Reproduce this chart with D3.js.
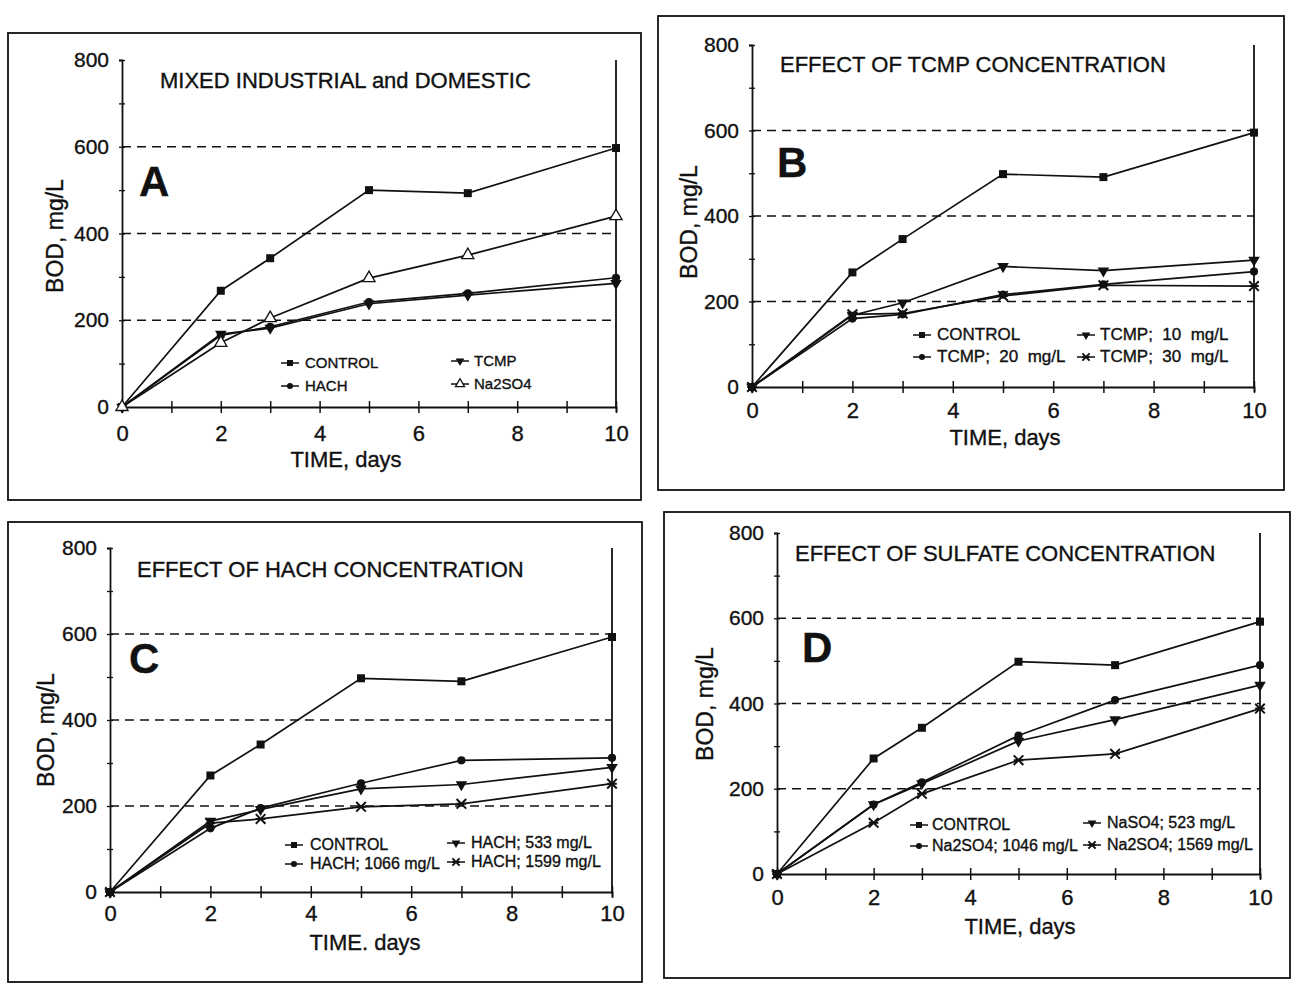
<!DOCTYPE html>
<html><head><meta charset="utf-8">
<script src="https://cdn.jsdelivr.net/npm/d3@7"></script>
<style>
body{margin:0;background:#fff}
text{font-family:"Liberation Sans",Arial,sans-serif;fill:#111;stroke:#111;stroke-width:0.35px}
</style>
</head><body>
<svg id="c" width="1293" height="987"></svg>
<script>
// ---------- data ----------
const days = [0, 2, 3, 5, 7, 10];
const xTickValues = [0,1,2,3,4,5,6,7,8,9,10];
const yTickValues = [0,100,200,300,400,500,600,700,800];
const gridValues = [200, 400, 600];

// Panel A: mixed industrial and domestic
const aControl = [0, 268, 343, 500, 493, 597];
const aHach    = [0, 165, 185, 242, 262, 298];
const aTcmp    = [0, 168, 182, 238, 258, 285];
const aNa2so4  = [0, 148, 205, 297, 350, 440];
// Panel B: TCMP concentration
const bControl = [0, 268, 346, 498, 491, 595];
const bTcmp10  = [0, 168, 197, 282, 272, 297];
const bTcmp20  = [0, 160, 170, 216, 240, 270];
const bTcmp30  = [0, 170, 172, 213, 238, 236];
// Panel C: HACH concentration
const cControl  = [0, 271, 343, 497, 490, 593];
const cHach533  = [0, 165, 192, 240, 250, 290];
const cHach1066 = [0, 148, 195, 253, 306, 312];
const cHach1599 = [0, 160, 170, 198, 205, 252];
// Panel D: sulfate concentration
const dControl     = [0, 271, 343, 498, 490, 592];
const dNaso4_523   = [0, 163, 212, 312, 362, 443];
const dNa2so4_1046 = [0, 163, 215, 325, 408, 490];
const dNa2so4_1569 = [0, 120, 188, 267, 282, 388];

const titles = ["MIXED INDUSTRIAL and DOMESTIC", "EFFECT OF TCMP CONCENTRATION",
                "EFFECT OF HACH CONCENTRATION", "EFFECT OF SULFATE CONCENTRATION"];
const letters = ["A", "B", "C", "D"];
const xLabels = ["TIME, days", "TIME, days", "TIME. days", "TIME, days"];
const yLabel = "BOD, mg/L";
const legendA = ["CONTROL", "HACH", "TCMP", "Na2SO4"];
const legendB = ["CONTROL", "TCMP;  20  mg/L", "TCMP;  10  mg/L", "TCMP;  30  mg/L"];
const legendC = ["CONTROL", "HACH; 1066 mg/L", "HACH; 533 mg/L", "HACH; 1599 mg/L"];
const legendD = ["CONTROL", "Na2SO4; 1046 mg/L", "NaSO4; 523 mg/L", "Na2SO4; 1569 mg/L"];

// ---------- layout ----------
const panels = [
  {box:[8,33,641,500], x0:122, x10:616, y0:407, y800:60, title:[160,88], letter:[139,196], ylab:[63,236], xlab:[346,467], xtdy:31, legFs:15,
   series:[[aControl,"square"],[aHach,"circle"],[aTcmp,"tridown"],[aNa2so4,"triopen"]], leg:legendA,
   legPos:[[290,363,305],[290,386,305],[460,361,474],[460,384,474]]},
  {box:[658,16,1284,490], x0:752, x10:1254, y0:387, y800:45, title:[780,72], letter:[777,177], ylab:[697,222], xlab:[1005,445], xtdy:28, legFs:17,
   series:[[bControl,"square"],[bTcmp20,"circle"],[bTcmp10,"tridown"],[bTcmp30,"star"]], leg:legendB,
   legPos:[[922,335,937],[922,357,937],[1086,335,1100],[1086,357,1100]]},
  {box:[8,522,642,982], x0:110, x10:612, y0:892, y800:548, title:[137,577], letter:[129,673], ylab:[54,730], xlab:[365,950], xtdy:26, legFs:16,
   series:[[cControl,"square"],[cHach1066,"circle"],[cHach533,"tridown"],[cHach1599,"star"]], leg:legendC,
   legPos:[[294,845,310],[294,864,310],[456,843,471],[456,862,471]]},
  {box:[664,512,1290,978], x0:777, x10:1260, y0:874, y800:533, title:[795,561], letter:[802,662], ylab:[713,704], xlab:[1020,934], xtdy:28, legFs:16,
   series:[[dControl,"square"],[dNa2so4_1046,"circle"],[dNaso4_523,"tridown"],[dNa2so4_1569,"star"]], leg:legendD,
   legPos:[[919,825,932],[919,846,932],[1092,823,1107],[1092,845,1107]]}
];

const svg = d3.select("#c");
const ink = "#111";

function marker(g, type, cx, cy, s) {
  s = s || 1;
  if (type === "square") {
    g.append("path").attr("d", d3.symbol(d3.symbolSquare, 64*s*s)()).attr("transform",`translate(${cx},${cy})`).attr("fill",ink);
  } else if (type === "circle") {
    g.append("path").attr("d", d3.symbol(d3.symbolCircle, 52*s*s)()).attr("transform",`translate(${cx},${cy})`).attr("fill",ink);
  } else if (type === "tridown") {
    g.append("path").attr("d", d3.symbol(d3.symbolTriangle, 58*s*s)()).attr("transform",`translate(${cx},${cy}) rotate(180)`).attr("fill",ink);
  } else if (type === "triopen") {
    g.append("path").attr("d", d3.symbol(d3.symbolTriangle, 64*s*s)()).attr("transform",`translate(${cx},${cy})`).attr("fill","#fff").attr("stroke",ink).attr("stroke-width",1.3);
  } else if (type === "star") {
    const r = 4.8*s;
    g.append("path").attr("d",`M${-r},${-r}L${r},${r}M${-r},${r}L${r},${-r}M${-r},0L${r},0`)
      .attr("transform",`translate(${cx},${cy})`).attr("stroke",ink).attr("stroke-width",2).attr("fill","none");
  }
}

panels.forEach((p, i) => {
  const g = svg.append("g");
  const x = d3.scaleLinear().domain([0,10]).range([p.x0, p.x10]);
  const y = d3.scaleLinear().domain([0,800]).range([p.y0, p.y800]);

  // outer box
  g.append("rect").attr("x",p.box[0]).attr("y",p.box[1]).attr("width",p.box[2]-p.box[0]).attr("height",p.box[3]-p.box[1])
    .attr("fill","none").attr("stroke",ink).attr("stroke-width",1.8);

  // dashed grid
  g.selectAll(".grid").data(gridValues).join("line")
    .attr("x1",x(0)).attr("x2",x(10)).attr("y1",d=>y(d)).attr("y2",d=>y(d))
    .attr("stroke",ink).attr("stroke-width",1.6).attr("stroke-dasharray","9,6");

  // right frame line
  g.append("line").attr("x1",x(10)).attr("x2",x(10)).attr("y1",y(0)).attr("y2",y(800)).attr("stroke",ink).attr("stroke-width",1.8);

  // x axis
  const xa = g.append("g").attr("transform",`translate(0,${p.y0})`)
    .call(d3.axisBottom(x).tickValues(xTickValues).tickSizeOuter(0).tickSize(5).tickPadding(p.xtdy-18)
      .tickFormat(d => d % 2 === 0 ? d : ""));
  xa.select(".domain").attr("stroke",ink).attr("stroke-width",1.8);
  xa.selectAll(".tick line").attr("y1",-6).attr("y2",6).attr("stroke",ink).attr("stroke-width",1.5);
  xa.selectAll(".tick text").attr("font-size",22).attr("font-family","Liberation Sans, Arial, sans-serif").attr("fill",ink);

  // y axis
  const ya = g.append("g").attr("transform",`translate(${p.x0},0)`)
    .call(d3.axisLeft(y).tickValues(yTickValues).tickSizeOuter(0).tickSize(3).tickPadding(10)
      .tickFormat(d => d % 200 === 0 ? d : ""));
  ya.select(".domain").attr("stroke",ink).attr("stroke-width",1.8);
  ya.selectAll(".tick line").attr("x1",-3).attr("x2",3).attr("stroke",ink).attr("stroke-width",1.3);
  ya.selectAll(".tick text").attr("font-size",21).attr("font-family","Liberation Sans, Arial, sans-serif").attr("fill",ink);

  // titles
  g.append("text").attr("x",p.title[0]).attr("y",p.title[1]).attr("font-size",22).text(titles[i]);
  g.append("text").attr("x",p.letter[0]).attr("y",p.letter[1]).attr("font-size",42).attr("font-weight","bold").text(letters[i]);
  g.append("text").attr("transform",`translate(${p.ylab[0]},${p.ylab[1]}) rotate(-90)`).attr("text-anchor","middle")
    .attr("font-size",23).text(yLabel);
  g.append("text").attr("x",p.xlab[0]).attr("y",p.xlab[1]).attr("text-anchor","middle").attr("font-size",22).text(xLabels[i]);

  // series
  const line = d3.line().x((d,k)=>x(days[k])).y(d=>y(d));
  p.series.forEach(([vals, type]) => {
    g.append("path").datum(vals).attr("d",line).attr("fill","none").attr("stroke",ink).attr("stroke-width",1.7);
    vals.forEach((v,k) => marker(g, type, x(days[k]), y(v), 1));
  });

  // legend
  p.series.forEach(([vals, type], k) => {
    const [sx, sy, tx] = p.legPos[k];
    g.append("line").attr("x1",sx-9).attr("x2",sx+9).attr("y1",sy).attr("y2",sy).attr("stroke",ink).attr("stroke-width",1.5);
    marker(g, type, sx, sy, 0.75);
    g.append("text").attr("x",tx).attr("y",sy+5).attr("font-size",p.legFs).style("white-space","pre").text(p.leg[k]);
  });
});
</script>
</body></html>
